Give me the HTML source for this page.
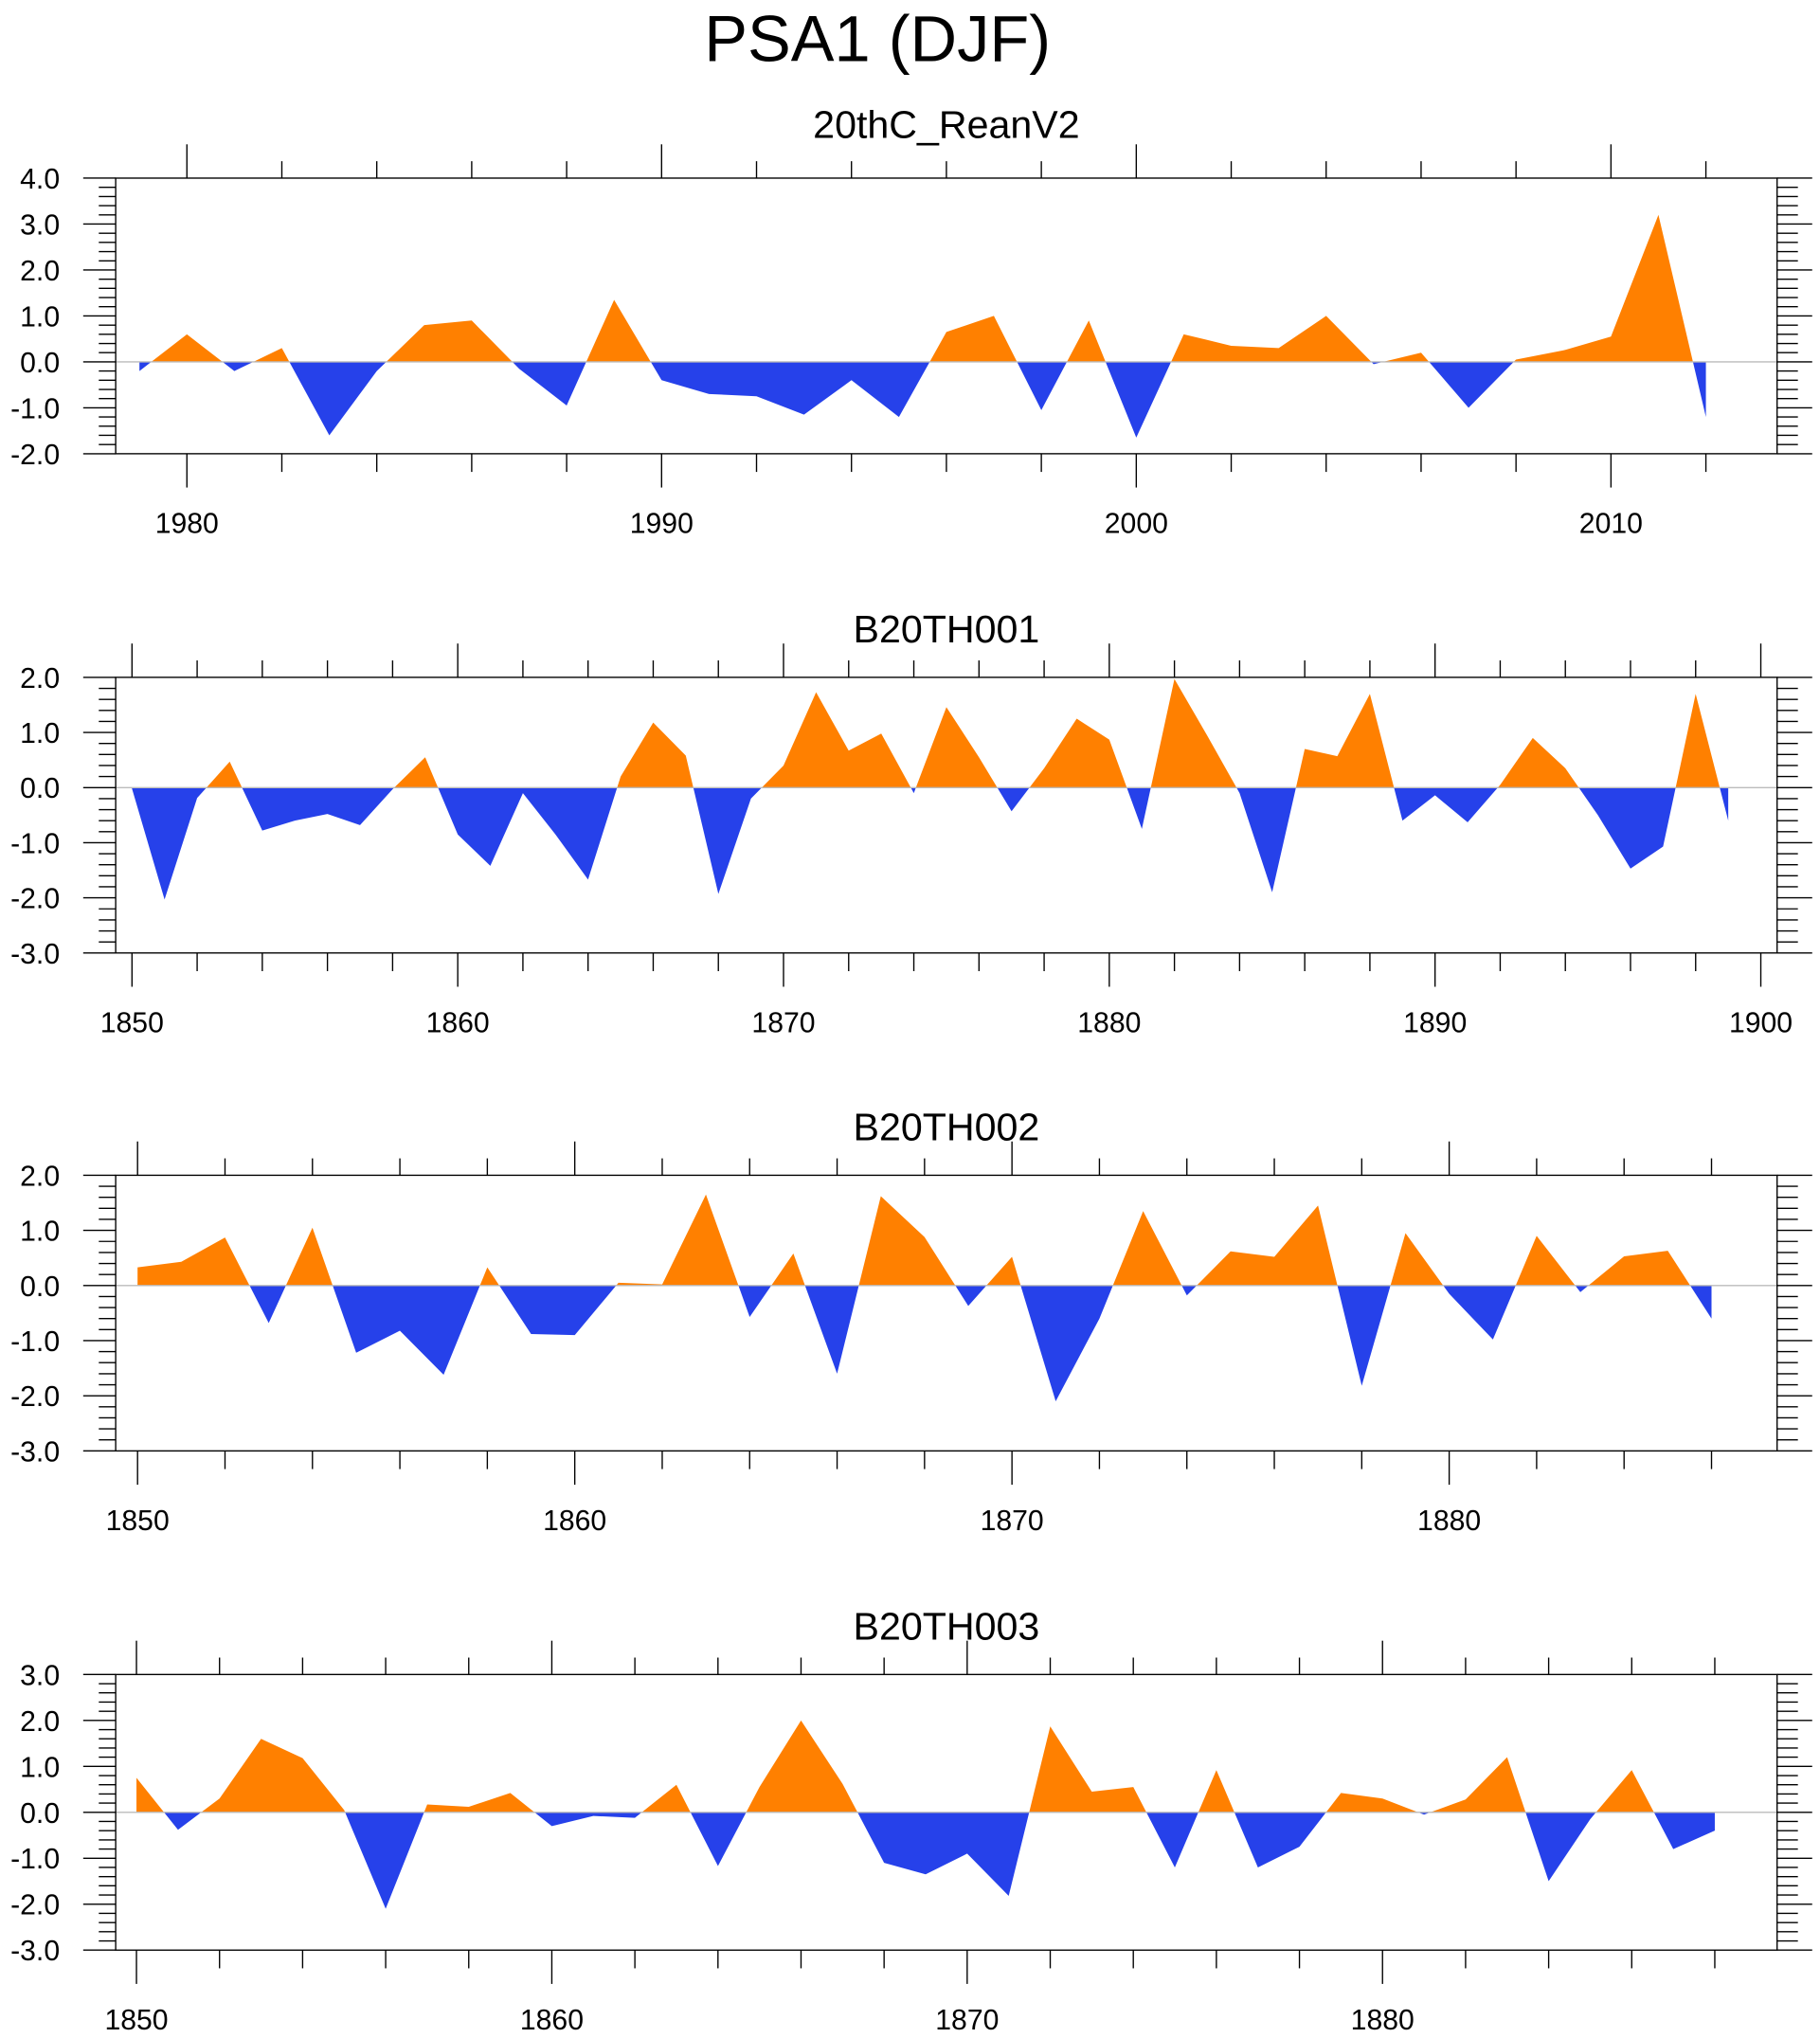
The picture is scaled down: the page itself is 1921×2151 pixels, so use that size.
<!DOCTYPE html>
<html><head><meta charset="utf-8"><title>PSA1 (DJF)</title>
<style>html,body{margin:0;padding:0;background:#fff}svg{display:block}</style></head>
<body>
<svg id="chart" xmlns="http://www.w3.org/2000/svg" width="1921" height="2151" viewBox="0 0 1400 1567.6" preserveAspectRatio="none" font-family="'Liberation Sans', sans-serif">
<text x="675" y="47" font-size="50" text-anchor="middle">PSA1 (DJF)</text>
</svg>
<script>
const titles = ["20thC_ReanV2","B20TH001","B20TH002","B20TH003"];
const startYears = [1979, 1850, 1850, 1850];
const reanV2 = [-0.2,0.6,-0.2,0.3,-1.6,-0.2,0.8,0.9,-0.15,-0.95,1.35,-0.4,-0.7,-0.75,-1.15,-0.4,-1.2,0.65,1.0,-1.05,0.9,-1.65,0.6,0.35,0.3,1.0,-0.05,0.2,-1.0,0.05,0.25,0.55,3.2,-1.2];
const b001 = [-0.02,-2.03,-0.19,0.47,-0.78,-0.6,-0.48,-0.68,-0.03,0.55,-0.85,-1.42,-0.1,-0.85,-1.67,0.2,1.18,0.58,-1.93,-0.2,0.4,1.73,0.67,0.98,-0.1,1.46,0.55,-0.43,0.35,1.25,0.87,-0.75,1.97,0.95,-0.1,-1.9,0.7,0.57,1.7,-0.6,-0.14,-0.63,0.05,0.9,0.35,-0.5,-1.47,-1.07,1.7,-0.6];
const b002 = [0.33,0.43,0.87,-0.68,1.05,-1.22,-0.82,-1.62,0.33,-0.88,-0.9,0.05,0.02,1.65,-0.57,0.58,-1.6,1.62,0.88,-0.37,0.52,-2.1,-0.6,1.35,-0.18,0.62,0.52,1.45,-1.82,0.95,-0.15,-0.98,0.9,-0.12,0.53,0.63,-0.6];
const b003 = [0.75,-0.38,0.3,1.6,1.18,0.05,-2.1,0.17,0.12,0.42,-0.3,-0.08,-0.12,0.6,-1.17,0.55,2.0,0.62,-1.1,-1.35,-0.9,-1.82,1.87,0.45,0.55,-1.2,0.92,-1.2,-0.75,0.42,0.3,-0.05,0.28,1.2,-1.5,-0.15,0.92,-0.8,-0.4];
const yMins = [-2,-3,-3,-3];
const yMaxs = [4,2,2,3];
const xMins = [1978.5,1849.5,1849.5,1849.5];
const xMaxs = [2013.5,1900.5,1887.5,1889.5];
const xLabelYears = [[1980,1990,2000,2010],[1850,1860,1870,1880,1890,1900],[1850,1860,1870,1880],[1850,1860,1870,1880]];
const seriesList = [reanV2,b001,b002,b003];

const NS="http://www.w3.org/2000/svg";
const svg=document.getElementById('chart');
function mk(tag,attrs,parent){const e=document.createElementNS(NS,tag);for(const k in attrs)e.setAttribute(k,attrs[k]);(parent||svg).appendChild(e);return e;}
const L=89,R=1367,H=212;
const tops=[137,521,904,1288];
const titleY=[106,494,877,1261];
for(let p=0;p<4;p++){
  const g=mk('g',{});
  
  
  const T=tops[p],B=T+H;
  const xs=v=>L+(v-xMins[p])/(xMaxs[p]-xMins[p])*(R-L);
  const ys=v=>B-(v-yMins[p])/(yMaxs[p]-yMins[p])*H;
  const t=mk('text',{x:728,y:titleY[p],'font-size':30,'text-anchor':'middle'},g);
  t.textContent=titles[p];
  
  
  const data=seriesList[p];const y0=ys(0);
  let d='M'+xs(startYears[p])+','+y0;
  data.forEach((v,i)=>{d+=' L'+xs(startYears[p]+i)+','+ys(v);});
  d+=' L'+xs(startYears[p]+data.length-1)+','+y0+' Z';
  const cid='c'+p;
  const defs=mk('defs',{},g);
  const cpA=mk('clipPath',{id:cid+'a'},defs);mk('rect',{x:L,y:T,width:R-L,height:y0-T},cpA);
  const cpB=mk('clipPath',{id:cid+'b'},defs);mk('rect',{x:L,y:y0,width:R-L,height:B-y0},cpB);
  const pa=mk('path',{d:d,fill:'#ff8000','clip-path':'url(#'+cid+'a)'},g);
  
  
  const pb=mk('path',{d:d,fill:'#2641ea','clip-path':'url(#'+cid+'b)'},g);
  
  
  const zl=mk('line',{x1:L,x2:R,y1:y0,y2:y0,stroke:'#bbb','stroke-width':1},g);
  
  
  const fr=mk('rect',{x:L,y:T,width:R-L,height:H,fill:'none',stroke:'#000','stroke-width':1},g);
  
  
  for(let k=0;;k++){const v=yMins[p]+k*0.2;if(v>yMaxs[p]+1e-6)break;
    const y=ys(v);const major=Math.abs(v-Math.round(v))<1e-6;
    mk('line',{x1:major?64:76,x2:L,y1:y,y2:y,stroke:'#000','stroke-width':1},g);
    mk('line',{x1:R,x2:major?1394:1383,y1:y,y2:y,stroke:'#000','stroke-width':1},g);
    if(major){const lb=mk('text',{x:46,y:y+8,'font-size':22,'text-anchor':'end'},g);
      lb.textContent=(Math.round(v)).toFixed(1);
      
      }
  }
  const ystart=Math.ceil(xMins[p]);
  for(let yr=ystart;yr<=xMaxs[p];yr++){
    if(yr%2)continue;const x=xs(yr);const major=yr%10===0;
    mk('line',{x1:x,x2:x,y1:T,y2:major?T-26:T-13,stroke:'#000','stroke-width':1},g);
    mk('line',{x1:x,x2:x,y1:B,y2:major?B+26:B+14,stroke:'#000','stroke-width':1},g);
  }
  xLabelYears[p].forEach(yr=>{const lb=mk('text',{x:xs(yr),y:B+61,'font-size':22,'text-anchor':'middle'},g);
    lb.textContent=yr;
    
    });
}
</script>
</body></html>
